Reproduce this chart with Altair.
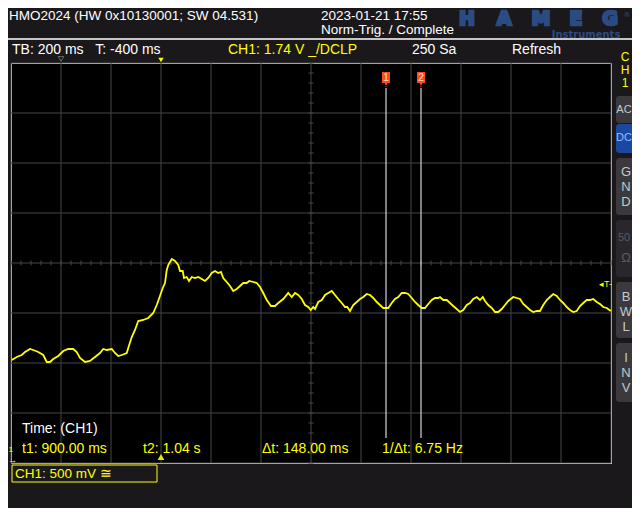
import altair as alt
import pandas as pd
import numpy as np

# ---- trace data (time in ms, voltage in V) ----
time_ms = [-597, -577, -557, -544, -524, -511, -491, -471, -457, -444, -431, -411, -391, -371, -351,
           -337, -324, -304, -284, -264, -244, -231, -217, -197, -184, -171, -157, -137, -131, -117,
           -104, -91, -71, -51, -31, -17, -7, 7, 16,
           23, 29, 43, 56, 69, 76, 87, 92, 103, 112, 123, 136, 149, 163, 176, 189, 203, 216, 229, 240,
           249, 263, 276, 289, 303, 316, 329, 343, 353, 369, 383, 396, 409, 423, 440, 456, 469, 489,
           509, 523, 536, 549, 563, 576, 589, 599, 609,
           616, 629, 643, 656, 669, 683, 696, 709, 723, 736, 745, 756, 769, 783, 796, 809, 823, 836,
           849, 863, 876, 889, 909, 923, 936, 949, 963, 976, 989, 1003, 1016, 1029, 1043, 1056, 1069,
           1083, 1096, 1109, 1116, 1129, 1143, 1156, 1169, 1183, 1196,
           1209, 1223, 1236, 1249, 1263, 1276, 1287, 1296, 1309, 1323, 1336, 1349, 1363, 1376, 1389,
           1409, 1423, 1436, 1449, 1463, 1476, 1489, 1503, 1516, 1529, 1543, 1556, 1569, 1583, 1596,
           1609, 1623, 1636, 1649, 1663, 1676, 1689, 1703, 1716, 1729, 1743, 1756, 1769, 1783, 1799]
volts = [0.98, 1.01, 1.03, 1.06, 1.09, 1.08, 1.06, 1.03, 0.96, 0.96, 0.99, 1.02, 1.07, 1.09, 1.09,
         1.06, 1.00, 0.96, 0.97, 1.01, 1.05, 1.09, 1.08, 1.09, 1.05, 1.02, 1.03, 1.05, 1.10, 1.21,
         1.28, 1.37, 1.38, 1.40, 1.45, 1.53, 1.60, 1.70, 1.75,
         1.88, 1.93, 1.99, 1.97, 1.93, 1.87, 1.87, 1.80, 1.81, 1.77, 1.81, 1.80, 1.81, 1.79, 1.77,
         1.80, 1.85, 1.87, 1.85, 1.86,
         1.80, 1.76, 1.72, 1.67, 1.69, 1.72, 1.75, 1.75, 1.77, 1.76, 1.75, 1.71, 1.65, 1.58, 1.52,
         1.52, 1.55, 1.59, 1.65, 1.61, 1.65, 1.63, 1.59, 1.53, 1.51, 1.48, 1.51,
         1.49, 1.56, 1.58, 1.63, 1.65, 1.67, 1.63, 1.59, 1.55, 1.51, 1.51, 1.47, 1.53, 1.56, 1.59,
         1.61, 1.64, 1.63, 1.60, 1.56, 1.53, 1.50, 1.50, 1.55, 1.59, 1.61, 1.65, 1.65, 1.64, 1.60,
         1.56, 1.53, 1.50, 1.50, 1.54, 1.58, 1.60, 1.60, 1.61, 1.58, 1.58, 1.55, 1.52, 1.49, 1.46,
         1.48, 1.53, 1.55, 1.59, 1.61, 1.58, 1.61, 1.57, 1.53, 1.50, 1.46, 1.46, 1.49, 1.53, 1.57,
         1.61, 1.60, 1.59, 1.54, 1.51, 1.48, 1.46, 1.47, 1.47, 1.53, 1.58, 1.61, 1.64, 1.62, 1.58,
         1.55, 1.51, 1.48, 1.46, 1.47, 1.52, 1.55, 1.58, 1.58, 1.59, 1.56, 1.54, 1.51, 1.50, 1.47]

cursor_t = [900, 1040]
cursor_label = ["1", "2"]
trigger_t = [0]
trigger_level = [1.74]
x_grid = [-600, -400, -200, 0, 200, 400, 600, 800, 1000, 1200, 1400, 1600, 1800]
y_grid = [-0.05, 0.45, 0.95, 1.45, 1.95, 2.45, 2.95, 3.45, 3.95]

FONT = "Liberation Sans"
BG = "#1b181c"
YEL = "#ffff00"
WHITE = "#ffffff"
GRID = "#464646"
ORANGE = "#ff4a1c"
LOGO = "#2b4c83"

XS = alt.Scale(domain=[-600, 1800], nice=False, zero=False)
YS = alt.Scale(domain=[-0.05, 3.95], nice=False, zero=False)
one = pd.DataFrame({"k": [0]})


def txt(s, x, y, color=WHITE, size=13.5, align="left", weight="normal", font=FONT, stroke=0):
    kw = dict(text=s, align=align, baseline="middle", fontSize=size, fontWeight=weight,
              font=font, color=color)
    if stroke:
        kw["stroke"] = color
        kw["strokeWidth"] = stroke
    return alt.Chart(one).mark_text(**kw).encode(x=alt.value(x), y=alt.value(y))


def box(x1, x2, y1, y2, fill=None, stroke=None, radius=0):
    kw = {}
    if fill is not None:
        kw["fill"] = fill
    else:
        kw["fillOpacity"] = 0
    if stroke is not None:
        kw["stroke"] = stroke
        kw["strokeWidth"] = 1
    if radius:
        kw["cornerRadius"] = radius
    return alt.Chart(one).mark_rect(**kw).encode(
        x=alt.value(x1), x2=alt.value(x2), y=alt.value(y1), y2=alt.value(y2))


# grid
grid_x = alt.Chart(pd.DataFrame({"t": x_grid})).mark_rule(color=GRID, strokeWidth=1).encode(
    x=alt.X("t:Q", scale=XS, axis=None))
grid_y = alt.Chart(pd.DataFrame({"v": y_grid})).mark_rule(color=GRID, strokeWidth=1).encode(
    y=alt.Y("v:Q", scale=YS, axis=None))
minor_x = alt.Chart(pd.DataFrame({"t": np.arange(-600, 1801, 40)})).mark_rule(
    color=GRID).encode(x=alt.X("t:Q", scale=XS, axis=None), y=alt.value(197.5), y2=alt.value(202.5))
minor_y = alt.Chart(pd.DataFrame({"v": np.round(np.arange(-0.05, 3.96, 0.1), 2)})).mark_rule(
    color=GRID).encode(y=alt.Y("v:Q", scale=YS, axis=None), x=alt.value(297.5), x2=alt.value(302.5))

trace = alt.Chart(pd.DataFrame({"t": time_ms, "v": volts})).mark_line(
    color=YEL, strokeWidth=1.8, clip=True).encode(
    x=alt.X("t:Q", scale=XS, axis=None),
    y=alt.Y("v:Q", scale=YS, axis=None),
)

cur_df = pd.DataFrame({"t": cursor_t, "lab": cursor_label})
cur_x = alt.X("t:Q", scale=XS, axis=None)
cursor_lines = alt.Chart(cur_df).mark_rule(color=WHITE, strokeWidth=1).encode(
    x=cur_x, y=alt.value(25), y2=alt.value(375))
cursor_stem = alt.Chart(cur_df).mark_rule(color=ORANGE, strokeDash=[1, 1]).encode(
    x=cur_x, y=alt.value(21), y2=alt.value(25))
cursor_tag = alt.Chart(cur_df).mark_rect(color=ORANGE, xOffset=-4, x2Offset=4).encode(
    x=cur_x, x2=alt.X2("t"), y=alt.value(9), y2=alt.value(20))
cursor_tip = alt.Chart(cur_df).mark_point(shape="triangle-down", filled=True, color=ORANGE,
                                          size=14, opacity=1).encode(x=cur_x, y=alt.value(21))
cursor_txt = alt.Chart(cur_df).mark_text(color="#ffe6c8", fontSize=10, font=FONT,
                                         baseline="middle").encode(
    x=cur_x, y=alt.value(15), text="lab:N")

trig_df = pd.DataFrame({"t": trigger_t})
trig_top = alt.Chart(trig_df).mark_point(shape="triangle-down", filled=True, color=YEL, size=28,
                                         opacity=1).encode(x=alt.X("t:Q", scale=XS, axis=None),
                                                           y=alt.value(-3))
trig_bottom = alt.Chart(trig_df).mark_point(shape="triangle-up", filled=True, color="#e6e600",
                                            size=45, opacity=1).encode(
    x=alt.X("t:Q", scale=XS, axis=None), y=alt.value(394))
pre_marker = alt.Chart(one).mark_point(shape="triangle-down", filled=False, color="#8a8a8a",
                                       size=32, strokeWidth=1).encode(x=alt.value(50), y=alt.value(-4))
trig_level = alt.Chart(pd.DataFrame({"v": trigger_level})).mark_text(
    text="◂T-", color=YEL, fontSize=9, align="right", baseline="middle", font=FONT).encode(
    y=alt.Y("v:Q", scale=YS, axis=None), x=alt.value(601))

layers = [grid_x, grid_y, minor_x, minor_y, trace, cursor_lines, cursor_stem, cursor_tag,
          cursor_tip, cursor_txt, trig_top, trig_bottom, pre_marker, trig_level]

# header
layers += [
    txt("HMO2024 (HW 0x10130001; SW 04.531)", -2, -47),
    txt("2023-01-21 17:55", 310, -47),
    txt("Norm-Trig. / Complete", 310, -33),
    alt.Chart(one).mark_rule(color=WHITE, strokeWidth=1.5).encode(
        x=alt.value(-11), x2=alt.value(629), y=alt.value(-24)),
    txt("TB: 200 ms\u00a0\u00a0\u00a0T: -400 ms", 1, -13, size=14),
    txt("CH1: 1.74 V _/DCLP", 217, -13, color=YEL, size=14),
    txt("250 Sa", 401, -13, size=14),
    txt("Refresh", 501, -13, size=14),
]
# logo
for letter, lx in zip("HAMEG", [456, 493, 530, 565, 599]):
    layers.append(txt(letter, lx, -44, color=LOGO, size=19, align="center",
                      weight="bold", font="DejaVu Sans", stroke=2.5))
layers.append(txt("®", 616, -48, color=LOGO, size=7, align="center", font="DejaVu Sans"))
layers.append(txt("Instruments", 575, -28.5, color=LOGO, size=10, align="center",
                  weight="bold", font="DejaVu Sans"))

# right side panel
for ch, yy in zip("CH1", [-6, 7, 20]):
    layers.append(txt(ch, 614, yy, color=YEL, size=12, align="center"))
BTN = "#3b393d"
buttons = [
    (33, 60, BTN, [("AC", 47)], "#c8c8c8"),
    (61, 90, "#1a47a0", [("DC", 75)], "#8cc0ff"),
    (95, 152, BTN, [("G", 109), ("N", 124), ("D", 139)], "#c8c8c8"),
    (157, 214, "#29272b", [("50", 175), ("Ω", 195)], "#5c5a5e"),
    (219, 275, BTN, [("B", 234), ("W", 249), ("L", 264)], "#c8c8c8"),
    (280, 339, BTN, [("I", 295), ("N", 310), ("V", 325)], "#c8c8c8"),
]
for y1, y2, fill, labels, tcol in buttons:
    layers.append(box(605, 630, y1, y2, fill=fill, radius=3))
    for lab, ly in labels:
        size = 11 if len(lab) > 1 else 13
        layers.append(txt(lab, 613 if len(lab) > 1 else 615, ly, color=tcol, size=size,
                          align="center"))

# bottom readouts
layers += [
    txt("Time: (CH1)", 11, 366, size=14),
    txt("t1: 900.00 ms", 11, 386, color=YEL, size=14),
    txt("t2: 1.04 s", 132, 386, color=YEL, size=14),
    txt("Δt: 148.00 ms", 251, 386, color=YEL, size=14),
    txt("1/Δt: 6.75 Hz", 371, 386, color=YEL, size=14),
    txt("1", -2.5, 387, color=YEL, size=8),
    txt("→", -3, 397, color=YEL, size=9),
    box(1, 146, 402, 419, stroke=YEL),
    txt("CH1: 500 mV ≅", 4, 411, color=YEL, size=13.5),
]

chart = alt.layer(*layers).properties(
    width=600, height=400,
    autosize=alt.AutoSizeParams(type="none"),
    padding={"left": 3, "top": 55, "right": 21, "bottom": 45},
    background=BG,
).configure_view(fill="#000000", stroke=WHITE, strokeWidth=1)

chart.save("out.html", embed_options={"renderer": "svg", "actions": False})
